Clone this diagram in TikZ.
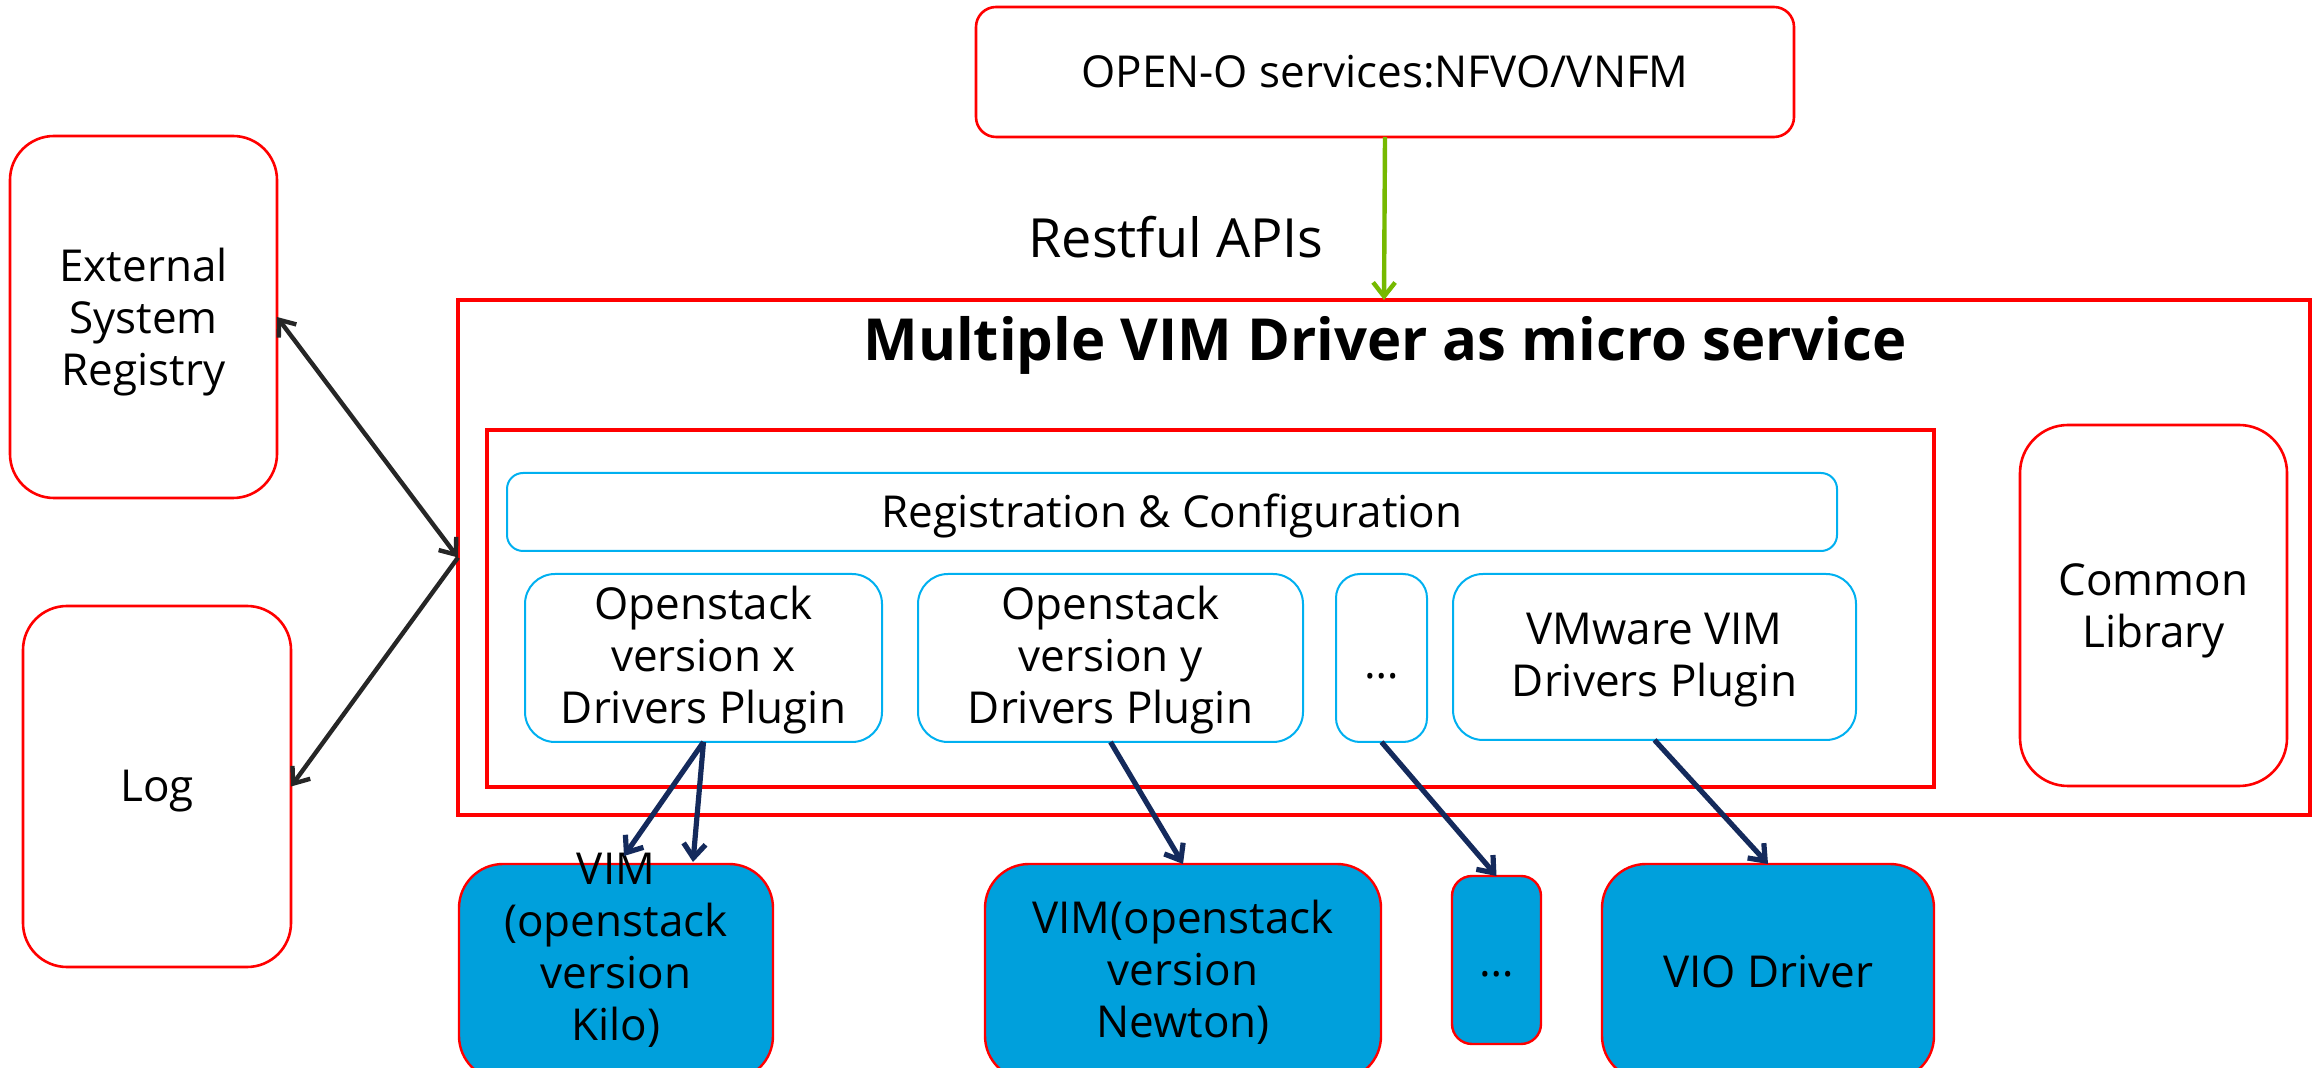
\documentclass[tikz,border=0pt]{standalone}
\usepackage{fontspec}
\setmainfont{Open Sans}
\usetikzlibrary{arrows.meta}
\definecolor{bred}{RGB}{255,0,0}
\definecolor{bcyan}{RGB}{0,176,240}
\definecolor{bfill}{RGB}{0,160,220}
\definecolor{navy}{RGB}{20,42,92}
\definecolor{lgreen}{RGB}{118,185,0}
\definecolor{dgray}{RGB}{38,38,38}
\newcommand{\dn}[2][2.5pt]{\raisebox{-#1}[\height][\depth]{\begin{tabular}{@{}c@{}}#2\end{tabular}}}
\begin{document}
\begin{tikzpicture}[x=0.5pt,y=-0.5pt,
  every node/.style={inner sep=0pt,outer sep=0pt,font=\fontsize{22}{26}\selectfont,align=center},
  redbox/.style={draw=bred,line width=1.3pt,fill=white},
  bluebox/.style={draw=bcyan,line width=1pt,fill=white,rounded corners=15pt},
  vimbox/.style={draw=bred,line width=1.2pt,fill=bfill,rounded corners=22pt},
  barb/.style={-{Straight Barb[length=7pt,width=11pt]}},
  dbarb/.style={{Straight Barb[length=7pt,width=11pt]}-{Straight Barb[length=7pt,width=11pt]}},
  navyarrow/.style={barb,draw=navy,line width=2.6pt},
  grayarrow/.style={draw=dgray,line width=2.2pt},
]
\useasboundingbox (0,0) rectangle (2318,1068);
\clip (0,0) rectangle (2318,1068);
\fill[white] (0,0) rectangle (2318,1068);

% top service
\node[redbox,rounded corners=10pt,minimum width=409pt,minimum height=65pt] (openo) at (1385,72) {OPEN-O services:NFVO/VNFM};
\node[font=\fontsize{27}{32}\selectfont] (restful) at (1176,237) {Restful APIs};

% left boxes
\node[redbox,rounded corners=22pt,minimum width=133.5pt,minimum height=181pt] (ext) at (143.5,317) {\dn[3pt]{External\\System\\Registry}};
\node[redbox,rounded corners=22pt,minimum width=134pt,minimum height=180.5pt] (log) at (157,786.5) {\dn{Log}};

% main box
\node[draw=bred,line width=2.4pt,minimum width=926pt,minimum height=257.5pt] (outer) at (1384,557.5) {};
\node[font=\fontsize{29}{34}\bfseries\selectfont] (title) at (1385,345) {Multiple VIM Driver as micro service};
\node[draw=bred,line width=1.7pt,minimum width=723.5pt,minimum height=178.5pt] (inner) at (1210.5,608.5) {};
\node[bluebox,rounded corners=8pt,minimum width=665pt,minimum height=39pt] (reg) at (1172,512) {\dn{Registration \& Configuration}};
\node[bluebox,minimum width=178.5pt,minimum height=84pt] (osx) at (703.5,658) {\dn[1.5pt]{Openstack\\version x\\Drivers Plugin}};
\node[bluebox,minimum width=192.5pt,minimum height=84pt] (osy) at (1110.5,658) {\dn[1.5pt]{Openstack\\version y\\Drivers Plugin}};
\node[bluebox,rounded corners=12pt,minimum width=45.5pt,minimum height=84pt] (dots) at (1381.5,658) {\dn[5pt]{\dots}};
\node[bluebox,minimum width=201.5pt,minimum height=83pt] (vmw) at (1654.5,657) {\dn[1.5pt]{VMware VIM\\Drivers Plugin}};
\node[redbox,rounded corners=24pt,minimum width=133.5pt,minimum height=180.5pt] (common) at (2153.5,605.5) {\dn[3pt]{Common\\Library}};

% bottom VIM boxes
\node[vimbox,minimum width=157pt,minimum height=108pt] (kilo) at (616,972) {};
\node (kilotxt) at (616,950) {VIM\\(openstack\\version\\Kilo)};
\node[vimbox,minimum width=198pt,minimum height=108pt] (newton) at (1183,972) {VIM(openstack\\version\\Newton)};
\node[vimbox,rounded corners=10pt,minimum width=44.5pt,minimum height=84pt] (sdots) at (1496.5,960) {\dn[3pt]{\dots}};
\node[vimbox,minimum width=166pt,minimum height=108pt] (vio) at (1768,972) {VIO Driver};

% connectors
\draw[barb,draw=lgreen,line width=2.2pt] (openo.south) -- (outer.north);
\draw[dbarb,grayarrow] (ext.east) -- (outer.west);
\draw[barb,grayarrow] (outer.west) -- (log.east);
\coordinate (k1) at (624,856);
\coordinate (k2) at (693,862);
\draw[navyarrow] (osx.south) -- (k1);
\draw[navyarrow] (osx.south) -- (k2);
\draw[navyarrow] (osy.south) -- (newton.north);
\draw[navyarrow] (dots.south) -- (sdots.north);
\draw[navyarrow] (vmw.south) -- (vio.north);
\end{tikzpicture}
\end{document}
